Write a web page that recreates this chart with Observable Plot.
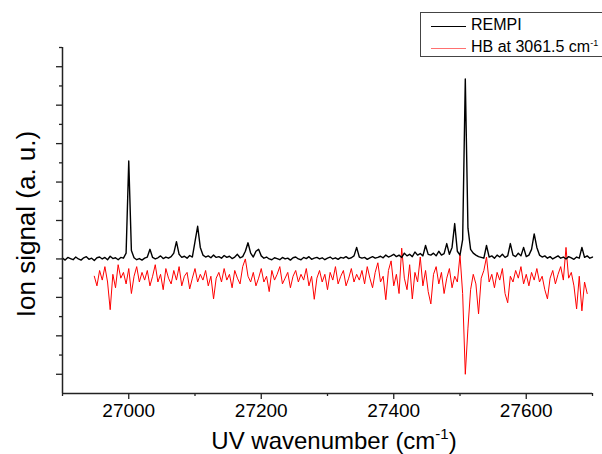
<!DOCTYPE html>
<html><head><meta charset="utf-8">
<script src="https://cdn.jsdelivr.net/npm/d3@7"></script>
<script src="https://cdn.jsdelivr.net/npm/@observablehq/plot@0.6"></script>
<style>
html,body{margin:0;padding:0;background:#fff;}
body{width:602px;height:454px;overflow:hidden;position:relative;font-family:"Liberation Sans",Arial,sans-serif;}
#legend{position:absolute;left:420px;top:12px;width:200px;height:45px;border:1px solid #444;background:#fff;box-sizing:border-box;}
.item{position:absolute;left:0;height:20px;font-size:16px;line-height:20px;color:#000;white-space:nowrap;}
.item .sw{position:absolute;left:10px;top:11px;width:35px;height:0;border-top:1px solid #000;}
.item .lb{position:absolute;left:50px;top:0;}
.item sup{font-size:9px;line-height:0;}
</style>
</head><body>
<div id="chart"></div>
<div id="legend">
  <div class="item" style="top:2px"><span class="sw"></span><span class="lb">REMPI</span></div>
  <div class="item" style="top:24px"><span class="sw" style="border-top-color:#ff7070"></span><span class="lb">HB at 3061.5 cm<sup>-1</sup></span></div>
</div>
<script>
// REMPI trace: wavenumber grid 26900..27700 step 4 (cm-1), signal in arbitrary units
const rempiStart = 26900, rempiStep = 4;
const rempiY = [
 0.02,-0.03,0.04,0.01,-0.02,0.05,0.0,-0.03,0.03,0.06,-0.01,0.02,-0.04,0.03,0.05,0.0,0.04,-0.02,0.07,0.01,
 0.03,-0.02,0.04,0.02,0.15,2.55,0.22,0.03,-0.02,0.01,-0.03,0.02,0.05,0.25,0.04,0.0,0.03,0.08,0.01,0.05,
 0.02,0.06,0.15,0.45,0.12,0.04,0.07,0.02,0.09,0.05,0.45,0.85,0.3,0.1,0.05,0.08,0.03,0.1,0.04,0.06,
 0.02,0.09,0.04,0.07,0.01,0.05,0.12,0.03,0.06,0.2,0.42,0.15,0.05,0.2,0.25,0.08,0.02,0.05,0.0,-0.02,
 0.03,0.01,-0.02,0.04,0.0,0.02,-0.03,0.03,0.05,0.0,-0.02,0.04,0.01,0.06,-0.01,0.02,0.04,0.0,0.03,-0.02,
 0.02,0.05,0.0,0.03,-0.01,0.04,0.02,0.06,0.01,0.03,0.08,0.3,0.05,0.02,0.04,-0.01,0.03,0.06,0.02,0.04,
 0.07,0.03,0.1,0.05,0.08,0.12,0.06,0.1,0.04,0.15,0.08,0.12,0.06,0.18,0.1,0.14,0.08,0.35,0.12,0.1,
 0.15,0.08,0.2,0.1,0.14,0.4,0.12,0.3,0.92,0.2,0.1,0.5,4.68,0.8,0.25,0.15,0.1,0.06,0.04,0.02,
 0.35,0.05,0.08,0.02,0.1,0.05,0.12,0.04,0.08,0.4,0.1,0.06,0.15,0.08,0.3,0.06,0.1,0.25,0.65,0.3,
 0.1,0.05,0.08,0.02,0.06,0.0,0.04,0.08,0.02,0.05,0.0,0.06,0.03,-0.01,0.05,0.02,0.3,0.04,0.08,0.02,0.05
];
// Hole-burning trace (HB at 3061.5 cm-1): grid 26948..27692 step 4
const hbStart = 26948, hbStep = 4;
const hbY = [
 -0.45,-0.7,-0.3,-0.55,-0.2,-0.6,-1.32,-0.4,-0.75,-0.15,-0.5,-0.35,-0.65,-0.25,-0.9,-0.45,-0.2,-0.6,-0.35,-0.55,
 -0.3,-0.7,-0.45,-0.15,-0.6,-0.4,-0.8,-0.25,-0.5,-0.65,-0.3,-0.55,-0.2,-0.7,-0.45,-0.35,-0.78,-0.5,-0.25,-0.6,
 -0.4,-0.55,-0.3,-0.7,-0.45,-1.04,-0.5,-0.35,-0.6,-0.25,-0.55,-0.4,-0.75,-0.3,-0.5,-0.65,-0.2,0.0,-0.45,-0.6,
 -0.35,-0.7,-0.5,-0.25,-0.6,-0.45,-0.85,-0.3,-0.55,-0.4,-0.2,-0.65,-0.5,-0.35,-0.75,-0.45,-0.3,-0.6,-0.4,-0.55,
 -0.25,-0.7,-0.45,-1.05,-0.5,-0.3,-0.6,-0.4,-0.8,-0.35,-0.55,-0.2,-0.65,-0.45,-0.3,-0.7,-0.5,-0.25,-0.6,-0.4,
 -0.55,-0.3,-0.65,-0.2,-0.5,-0.75,-0.35,-0.1,-0.6,-0.45,-1.06,-0.3,-0.05,-0.7,-0.4,-0.9,0.28,-0.5,-0.8,-0.15,
 -1.04,-0.35,-0.6,0.05,-0.7,-0.3,-0.85,-1.17,-0.4,-0.2,-0.65,-0.35,-0.9,-0.5,-0.25,-0.75,-0.45,-0.6,0.1,-0.9,
 -3.0,-1.8,-0.8,-0.4,-0.65,-1.43,-0.5,-0.3,0.05,-0.6,-0.4,-0.75,-0.35,-0.55,-0.25,-0.9,-1.14,-0.45,-0.6,-0.3,
 -0.5,-0.2,-0.65,-0.4,-0.7,-0.35,-0.55,-0.25,-0.6,-0.45,-0.8,-1.04,-0.5,-0.3,-0.65,-0.4,-0.2,-0.55,0.3,-0.5,
 -0.35,-0.7,-1.3,-0.45,-1.35,-0.6,-0.9
];
const xMajorTicks = [27000, 27200, 27400, 27600];
const xMinorTicks = [26900, 27100, 27300, 27500, 27700];
const yMajorTicks = [-3, -2, -1, 0, 1, 2, 3, 4, 5];
const yMinorTicks = [-2.5, -1.5, -0.5, 0.5, 1.5, 2.5, 3.5, 4.5, 5.5];

const rempi = rempiY.map((y, i) => ({x: rempiStart + i * rempiStep, y}));
const hb = hbY.map((y, i) => ({x: hbStart + i * hbStep, y}));

const axisColor = "#222";
const chart = Plot.plot({
  width: 602, height: 454,
  marginLeft: 62, marginRight: 10, marginTop: 47, marginBottom: 61,
  x: {domain: [26900, 27700]},
  y: {domain: [-3.5, 5.5]},
  style: {fontFamily: "'Liberation Sans', Arial, sans-serif", background: "white", color: "#000"},
  marks: [
    Plot.line(hb, {x: "x", y: "y", stroke: "#ff0000", strokeWidth: 1}),
    Plot.line(rempi, {x: "x", y: "y", stroke: "#000", strokeWidth: 1.4}),
    Plot.axisX({ticks: xMajorTicks, tickSize: 6, tickPadding: 4, tickFormat: d => String(d), label: null, fontSize: 19, stroke: axisColor, strokeWidth: 1.3, fill: "#000"}),
    Plot.axisX({ticks: xMinorTicks, tickSize: 3, tickFormat: () => "", label: null, stroke: axisColor, strokeWidth: 1.3}),
    Plot.axisY({ticks: yMajorTicks, tickSize: 6, tickFormat: () => "", label: null, stroke: axisColor, strokeWidth: 1.3}),
    Plot.axisY({ticks: yMinorTicks, tickSize: 3, tickFormat: () => "", label: null, stroke: axisColor, strokeWidth: 1.3}),
    Plot.ruleX([26900], {stroke: axisColor, strokeWidth: 1.5}),
    Plot.ruleY([-3.5], {stroke: axisColor, strokeWidth: 1.5})
  ]
});
document.getElementById("chart").appendChild(chart);

const svg = d3.select(chart);
const xl = svg.append("text").attr("x", 334).attr("y", 449).attr("text-anchor", "middle")
  .attr("font-size", 24).attr("fill", "#000").attr("font-family", "'Liberation Sans', Arial, sans-serif");
xl.append("tspan").text("UV wavenumber (cm");
xl.append("tspan").attr("dy", -10).attr("font-size", 15).text("-1");
xl.append("tspan").attr("dy", 10).text(")");

svg.append("text").attr("transform", "translate(35,224) rotate(-90)").attr("text-anchor", "middle")
  .attr("font-size", 26).attr("fill", "#000").attr("font-family", "'Liberation Sans', Arial, sans-serif")
  .text("Ion signal (a. u.)");
</script>
</body></html>
